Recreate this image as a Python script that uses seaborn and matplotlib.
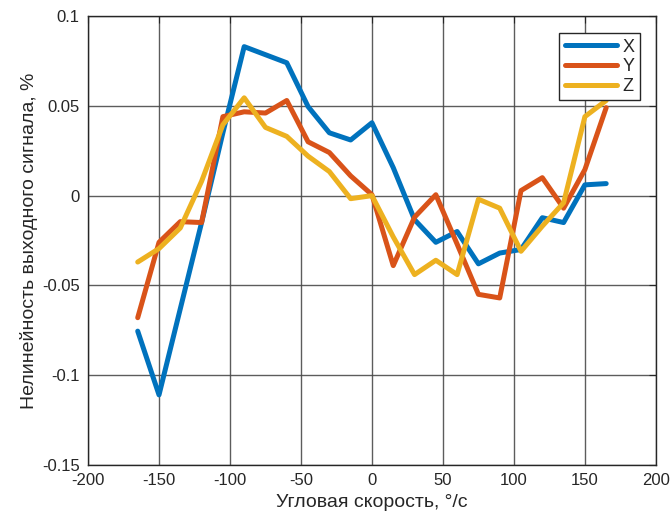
import numpy as np
import pandas as pd
import seaborn as sns
import matplotlib
matplotlib.use('Agg')
import matplotlib.pyplot as plt

# angular rate points, deg/s
speed = [-165, -150, -135, -120, -105, -90, -75, -60, -45, -30, -15, 0,
         15, 30, 45, 60, 75, 90, 105, 120, 135, 150, 165]

# output nonlinearity, %
x_vals = [-0.0755, -0.111, -0.063, -0.015, 0.035, 0.083, 0.0785, 0.074, 0.0496, 0.035, 0.031, 0.0406,
          0.0156, -0.0134, -0.026, -0.020, -0.038, -0.032, -0.030, -0.0123, -0.015, 0.006, 0.0067]
y_vals = [-0.068, -0.026, -0.0145, -0.015, 0.044, 0.0467, 0.046, 0.053, 0.030, 0.024, 0.011, 0.0005,
          -0.039, -0.012, 0.0005, -0.027, -0.055, -0.057, 0.0028, 0.010, -0.007, 0.0145, 0.049]
z_vals = [-0.037, -0.0295, -0.018, 0.008, 0.0395, 0.0545, 0.038, 0.033, 0.022, 0.0134, -0.0017, 0.0,
          -0.023, -0.044, -0.036, -0.044, -0.002, -0.007, -0.031, -0.017, -0.004, 0.044, 0.053]

axis_names = ['X', 'Y', 'Z']
colors = ['#0072BD', '#D95319', '#EDB120']

df = pd.DataFrame({
    'speed': speed * 3,
    'value': x_vals + y_vals + z_vals,
    'axis': ['X'] * len(speed) + ['Y'] * len(speed) + ['Z'] * len(speed),
})

sns.set_style('white')
plt.rcParams['font.family'] = ['Liberation Sans', 'DejaVu Sans']
plt.rcParams['axes.unicode_minus'] = False

fig = plt.figure(figsize=(6.72, 5.2), dpi=100)
ax = fig.add_axes([0.131, 0.106, 0.845, 0.863])

sns.lineplot(data=df, x='speed', y='value', hue='axis', hue_order=axis_names,
             palette=colors, linewidth=3.6, ax=ax, zorder=3)

ax.set_xlim(-200, 200)
ax.set_ylim(-0.15, 0.1)
ax.set_xticks(np.arange(-200, 201, 50))
ax.set_yticks([-0.15, -0.1, -0.05, 0, 0.05, 0.1])
ax.set_yticklabels(['-0.15', '-0.1', '-0.05', '0', '0.05', '0.1'])
ax.grid(True, color='#4a4a4a', linewidth=1, alpha=0.9, zorder=0)
ax.set_axisbelow(True)
for s in ax.spines.values():
    s.set_color('#262626')
    s.set_linewidth(1)
ax.tick_params(direction='in', length=5, labelsize=12, colors='#262626',
               top=True, right=True, pad=6)

ax.set_xlabel('Угловая скорость, °/с', fontsize=14, color='#262626', labelpad=4)
ax.set_ylabel('Нелинейность выходного сигнала, %', fontsize=14, color='#262626', labelpad=3)

leg = ax.legend(title=None, loc='upper right', bbox_to_anchor=(0.972, 0.962),
                borderaxespad=0, fontsize=13, frameon=True, fancybox=False,
                handlelength=2.9, handletextpad=0.3, borderpad=0.3, labelspacing=0.15)
leg.get_frame().set_edgecolor('#262626')
leg.get_frame().set_linewidth(1)
leg.get_frame().set_alpha(1)
leg.set_zorder(5)

fig.savefig('out.png', dpi=100)
